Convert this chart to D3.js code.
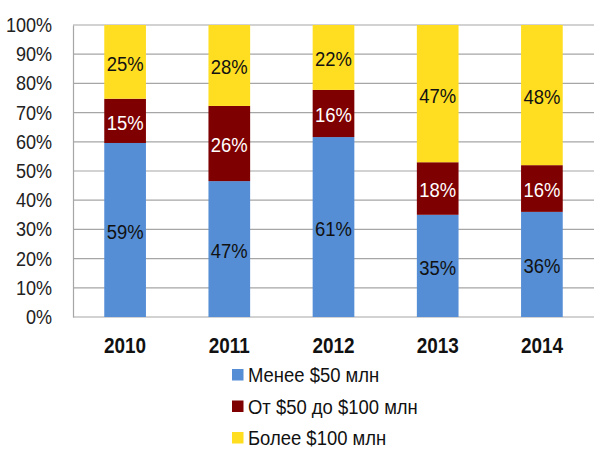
<!DOCTYPE html>
<html><head><meta charset="utf-8">
<script src="https://cdn.jsdelivr.net/npm/d3@7"></script>
<style>body{margin:0;background:#fff}</style>
</head><body>
<svg id="c" width="600" height="462"></svg>
<script>
const years = ["2010","2011","2012","2013","2014"];
const seriesNames = ["Менее $50 млн","От $50 до $100 млн","Более $100 млн"];
const small = [59,47,61,35,36];
const mid = [15,26,16,18,16];
const large = [25,28,22,47,48];
const yTicks = [0,0.1,0.2,0.3,0.4,0.5,0.6,0.7,0.8,0.9,1];
const colors = ["#558ED5","#7F0000","#FFDE21"];
const labelColors = ["#111","#fff","#111"];

const font = "'Liberation Sans',Arial,sans-serif";
const svg = d3.select("#c");
const m = {l:73, r:6, t:25, b:145};
const W = 600, H = 462;
const x = d3.scaleBand().domain(years).range([m.l, W-m.r]).paddingInner(0.6).paddingOuter(0.3);
const y = d3.scaleLinear().domain([0,1]).range([H-m.b, m.t]);

const rows = years.map((yr,i)=>({year:yr, s0:small[i], s1:mid[i], s2:large[i]}));
const stack = d3.stack().keys(["s0","s1","s2"]).offset(d3.stackOffsetExpand);
const layers = stack(rows);

// gridlines
svg.append("g").selectAll("line").data(yTicks).join("line")
  .attr("x1", m.l).attr("x2", W-m.r)
  .attr("y1", d=>y(d)).attr("y2", d=>y(d))
  .attr("stroke","#A6A6A6").attr("stroke-width",1.2);

// y axis
const ya = svg.append("g").attr("transform",`translate(${m.l},0)`)
  .call(d3.axisLeft(y).tickValues(yTicks).tickFormat(d3.format(".0%")).tickSize(0).tickPadding(0));
ya.select(".domain").attr("stroke","#A6A6A6").attr("stroke-width",1.2);
ya.selectAll("text").attr("x",0).attr("transform",`translate(-21,0) scale(0.88,1)`)
  .attr("font-family",font).attr("font-size",20.5).attr("fill","#222");

// bars
const g = svg.append("g");
layers.forEach((L,k)=>{
  g.append("g").selectAll("rect").data(L).join("rect")
    .attr("x", d=>x(d.data.year)).attr("width", x.bandwidth())
    .attr("y", d=>y(d[1])).attr("height", d=>y(d[0])-y(d[1]))
    .attr("fill", colors[k]);
  g.append("g").selectAll("text").data(L).join("text")
    .attr("transform", d=>`translate(${x(d.data.year)+x.bandwidth()/2},${(y(d[0])+y(d[1]))/2+1.5}) scale(0.9,1)`)
    .attr("dy","0.36em")
    .attr("text-anchor","middle")
    .attr("font-family",font).attr("font-size",20.5)
    .attr("fill", labelColors[k])
    .text(d=>d.data["s"+k]+"%");
});

// x axis labels
svg.append("g").attr("transform",`translate(0,${H-m.b})`)
  .call(d3.axisBottom(x).tickSize(0).tickPadding(20))
  .call(a=>a.select(".domain").remove())
  .selectAll("text").attr("transform",`scale(0.86,1)`)
  .attr("font-family",font).attr("font-size",22).attr("font-weight","bold").attr("fill","#111");

// legend
const leg = svg.append("g").attr("transform","translate(232,369)");
seriesNames.forEach((n,i)=>{
  const r = leg.append("g").attr("transform",`translate(0,${i*31.5})`);
  r.append("rect").attr("width",11.5).attr("height",11.5).attr("fill",colors[i]);
  r.append("text").attr("transform",`translate(16,6) scale(0.9,1)`).attr("dy","0.36em")
    .attr("font-family",font).attr("font-size",20.5).attr("fill","#111").text(n);
});
</script>
</body></html>
